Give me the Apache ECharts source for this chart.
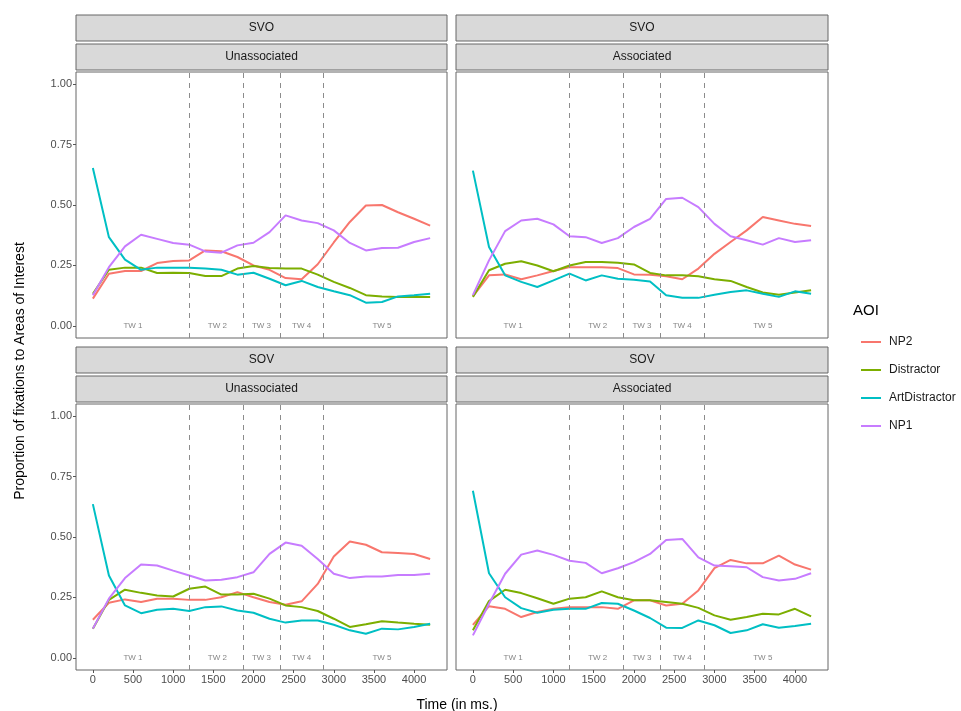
<!DOCTYPE html>
<html>
<head>
<meta charset="utf-8">
<script src="https://cdn.jsdelivr.net/npm/echarts@6/dist/echarts.min.js"></script>
<style>
  html, body { margin: 0; padding: 0; background: #fff; }
  #chart { width: 961px; height: 711px; }
</style>
</head>
<body>
<div id="chart"></div>
<script>
// 时间点 (ms)
const times = [0, 200, 400, 600, 800, 1000, 1200, 1400, 1600, 1800, 2000,
  2200, 2400, 2600, 2800, 3000, 3200, 3400, 3600, 3800, 4000, 4200];
const xTicks = [0, 500, 1000, 1500, 2000, 2500, 3000, 3500, 4000];
const yTicks = [0, 0.25, 0.5, 0.75, 1];
const aoiNames = ['NP2', 'Distractor', 'ArtDistractor', 'NP1'];
const aoiColors = ['#F8766D', '#7CAE00', '#00BFC4', '#C77CFF'];
// 时间窗分界线 & 标签
const windowBreaks = [1200, 1870, 2330, 2870];
const windowLabels = ['TW 1', 'TW 2', 'TW 3', 'TW 4', 'TW 5'];
const windowLabelPos = [500, 1550, 2100, 2600, 3600];

// SVO / Unassociated
const svoUnNP2 = [0.113, 0.216, 0.227, 0.227, 0.260, 0.268, 0.271, 0.312, 0.309, 0.285, 0.250,
  0.232, 0.198, 0.193, 0.255, 0.345, 0.430, 0.498, 0.500, 0.470, 0.443, 0.415];
const svoUnDis = [0.133, 0.232, 0.241, 0.241, 0.219, 0.220, 0.219, 0.206, 0.206, 0.237, 0.248,
  0.239, 0.237, 0.237, 0.212, 0.182, 0.157, 0.127, 0.122, 0.120, 0.120, 0.120];
const svoUnArt = [0.653, 0.367, 0.274, 0.232, 0.241, 0.241, 0.241, 0.237, 0.232, 0.212, 0.220,
  0.195, 0.168, 0.186, 0.161, 0.143, 0.127, 0.096, 0.099, 0.122, 0.127, 0.133];
const svoUnNP1 = [0.127, 0.243, 0.329, 0.377, 0.360, 0.343, 0.336, 0.308, 0.303, 0.333, 0.344,
  0.388, 0.457, 0.436, 0.425, 0.395, 0.343, 0.312, 0.322, 0.323, 0.347, 0.363];

// SVO / Associated
const svoAsNP2 = [0.122, 0.209, 0.213, 0.193, 0.209, 0.227, 0.243, 0.243, 0.243, 0.239, 0.213,
  0.212, 0.205, 0.193, 0.237, 0.298, 0.347, 0.395, 0.450, 0.436, 0.422, 0.413];
const svoAsDis = [0.120, 0.230, 0.257, 0.267, 0.250, 0.226, 0.250, 0.264, 0.264, 0.261, 0.254,
  0.219, 0.209, 0.209, 0.205, 0.193, 0.186, 0.161, 0.138, 0.129, 0.138, 0.147];
const svoAsArt = [0.642, 0.326, 0.209, 0.182, 0.161, 0.188, 0.216, 0.188, 0.209, 0.195, 0.191,
  0.184, 0.127, 0.116, 0.116, 0.129, 0.140, 0.147, 0.133, 0.120, 0.143, 0.133];
const svoAsNP1 = [0.127, 0.271, 0.392, 0.436, 0.443, 0.420, 0.371, 0.367, 0.343, 0.363, 0.409,
  0.443, 0.525, 0.530, 0.491, 0.422, 0.371, 0.354, 0.336, 0.363, 0.347, 0.354];

// SOV / Unassociated
const sovUnNP2 = [0.158, 0.228, 0.242, 0.231, 0.245, 0.245, 0.240, 0.240, 0.251, 0.272, 0.251,
  0.231, 0.220, 0.234, 0.306, 0.419, 0.481, 0.468, 0.437, 0.434, 0.430, 0.409];
const sovUnDis = [0.121, 0.240, 0.282, 0.269, 0.258, 0.254, 0.286, 0.295, 0.262, 0.262, 0.265,
  0.245, 0.217, 0.210, 0.194, 0.162, 0.128, 0.139, 0.152, 0.146, 0.141, 0.137];
const sovUnArt = [0.636, 0.341, 0.217, 0.185, 0.199, 0.203, 0.194, 0.210, 0.213, 0.196, 0.187,
  0.162, 0.146, 0.155, 0.155, 0.137, 0.114, 0.100, 0.121, 0.118, 0.128, 0.141];
const sovUnNP1 = [0.121, 0.245, 0.330, 0.386, 0.382, 0.361, 0.341, 0.320, 0.323, 0.334, 0.354,
  0.430, 0.477, 0.464, 0.409, 0.348, 0.330, 0.337, 0.337, 0.343, 0.343, 0.348];

// SOV / Associated
const sovAsNP2 = [0.137, 0.214, 0.203, 0.169, 0.190, 0.203, 0.210, 0.210, 0.210, 0.203, 0.238,
  0.238, 0.217, 0.224, 0.279, 0.371, 0.405, 0.391, 0.391, 0.423, 0.386, 0.365];
const sovAsDis = [0.114, 0.235, 0.282, 0.268, 0.247, 0.224, 0.245, 0.251, 0.275, 0.251, 0.238,
  0.238, 0.231, 0.224, 0.207, 0.176, 0.158, 0.169, 0.183, 0.180, 0.203, 0.172];
const sovAsArt = [0.691, 0.350, 0.251, 0.206, 0.187, 0.199, 0.203, 0.203, 0.227, 0.224, 0.196,
  0.165, 0.125, 0.124, 0.155, 0.135, 0.103, 0.114, 0.139, 0.125, 0.132, 0.141];
const sovAsNP1 = [0.093, 0.224, 0.348, 0.427, 0.444, 0.426, 0.402, 0.393, 0.350, 0.371, 0.396,
  0.430, 0.488, 0.492, 0.416, 0.382, 0.379, 0.375, 0.334, 0.320, 0.327, 0.350];

const panels = [
  { top: 'SVO', sub: 'Unassociated', data: [svoUnNP2, svoUnDis, svoUnArt, svoUnNP1] },
  { top: 'SVO', sub: 'Associated', data: [svoAsNP2, svoAsDis, svoAsArt, svoAsNP1] },
  { top: 'SOV', sub: 'Unassociated', data: [sovUnNP2, sovUnDis, sovUnArt, sovUnNP1] },
  { top: 'SOV', sub: 'Associated', data: [sovAsNP2, sovAsDis, sovAsArt, sovAsNP1] }
];

const font = "'Liberation Sans', Arial, Helvetica, sans-serif";
// 面板位置
const boxes = [
  { left: 76, top: 72, width: 371, height: 266 },
  { left: 456, top: 72, width: 372, height: 266 },
  { left: 76, top: 404, width: 371, height: 266 },
  { left: 456, top: 404, width: 372, height: 266 }
];
const stripH = 27;

let grids = [], xAxes = [], yAxes = [], series = [], graphics = [];

boxes.forEach((b, i) => {
  grids.push({
    left: b.left, top: b.top, width: b.width, height: b.height,
    show: true, borderColor: '#666', borderWidth: 1, backgroundColor: '#fff'
  });
  const isBottom = i >= 2;
  const isLeft = i % 2 === 0;
  xAxes.push({
    type: 'value', gridIndex: i, min: -210, max: 4410, position: 'bottom',
    axisLine: { show: false, onZero: false },
    splitLine: { show: false },
    axisTick: { show: isBottom, customValues: xTicks, length: 3, lineStyle: { color: '#555' } },
    axisLabel: {
      show: isBottom, customValues: xTicks, margin: 4,
      color: '#4d4d4d', fontSize: 11, fontFamily: font,
      formatter: v => String(v)
    }
  });
  yAxes.push({
    type: 'value', gridIndex: i, min: -0.05, max: 1.05, position: 'left',
    axisLine: { show: false, onZero: false },
    splitLine: { show: false },
    axisTick: { show: isLeft, customValues: yTicks, length: 3, lineStyle: { color: '#555' } },
    axisLabel: {
      show: isLeft, customValues: yTicks, margin: 4,
      color: '#4d4d4d', fontSize: 11, fontFamily: font,
      formatter: v => v.toFixed(2)
    }
  });

  panels[i].data.forEach((arr, k) => {
    const s = {
      name: aoiNames[k], type: 'line', xAxisIndex: i, yAxisIndex: i,
      data: times.map((t, j) => [t, arr[j]]),
      showSymbol: false, symbol: 'none',
      lineStyle: { color: aoiColors[k], width: 2 },
      itemStyle: { color: aoiColors[k] },
      z: 3
    };
    if (k === 0) {
      s.markLine = {
        silent: true, symbol: ['none', 'none'],
        label: { show: false },
        lineStyle: { color: '#8c8c8c', type: [5, 5], width: 1 },
        data: windowBreaks.map(v => ({ xAxis: v }))
      };
    }
    series.push(s);
  });

  series.push({
    name: 'tw', type: 'scatter', xAxisIndex: i, yAxisIndex: i,
    symbolSize: 0, silent: true,
    data: windowLabels.map((l, j) => [windowLabelPos[j], 0, l]),
    label: {
      show: true, position: 'inside', formatter: p => p.value[2],
      color: '#666', fontSize: 8, fontFamily: font
    }
  });

  // 分面标题条
  [panels[i].top, panels[i].sub].forEach((txt, r) => {
    const y = b.top - stripH * (2 - r) - (r === 0 ? 3 : 1);
    graphics.push({
      type: 'rect',
      shape: { x: b.left, y: y, width: b.width, height: stripH - 1 },
      style: { fill: '#d9d9d9', stroke: '#666', lineWidth: 1 }
    });
    graphics.push({
      type: 'text', x: b.left + b.width / 2, y: y + (stripH - 1) / 2,
      style: {
        text: txt, fill: '#1a1a1a', font: '12px ' + font,
        textAlign: 'center', textVerticalAlign: 'middle'
      }
    });
  });
});

graphics.push({
  type: 'text', x: 853, y: 311,
  style: { text: 'AOI', fill: '#000', font: '15px ' + font, textVerticalAlign: 'middle' }
});
// y 轴标题
graphics.push({
  type: 'text', x: 20, y: 371, rotation: Math.PI / 2,
  style: {
    text: 'Proportion of fixations to Areas of Interest', fill: '#000',
    font: '14px ' + font, textAlign: 'center', textVerticalAlign: 'middle'
  }
});

const option = {
  animation: false,
  backgroundColor: '#fff',
  grid: grids,
  xAxis: xAxes,
  yAxis: yAxes,
  series: series,
  graphic: graphics,
  legend: {
    data: aoiNames,
    orient: 'vertical',
    left: 856, top: 331,
    icon: 'rect', itemWidth: 20, itemHeight: 2,
    itemGap: 16,
    textStyle: { color: '#1a1a1a', fontSize: 12, fontFamily: font, padding: [0, 0, 0, 3] }
  },
  title: [
    {
      text: 'Time (in ms.)', left: 452, top: 693, textAlign: 'center',
      textStyle: { color: '#000', fontSize: 14, fontWeight: 'normal', fontFamily: font }
    }
  ]
};

const chart = echarts.init(document.getElementById('chart'));
chart.setOption(option);
</script>
</body>
</html>
